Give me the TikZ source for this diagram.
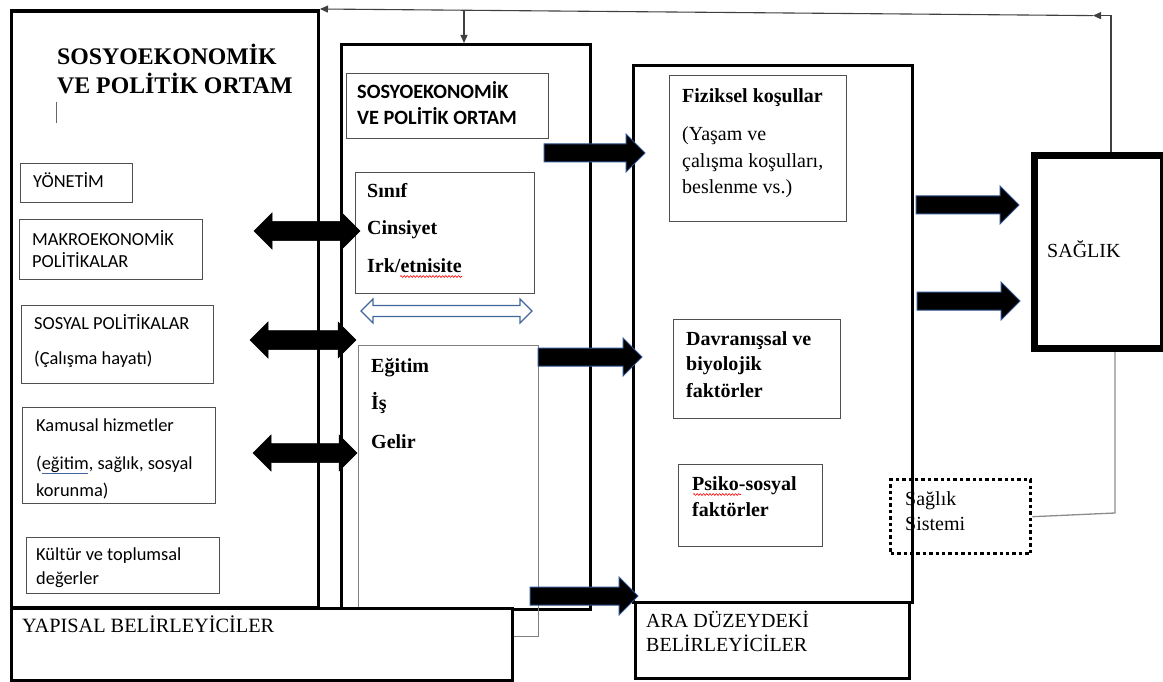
\documentclass[tikz,border=0pt]{standalone}
\usepackage{fontspec}
\setmainfont{Liberation Serif}
\newfontfamily\calfont{Carlito}
\usetikzlibrary{arrows.meta,decorations.pathmorphing}
\definecolor{arrowblue}{HTML}{2F528F}
\definecolor{hollowblue}{HTML}{41679F}
\definecolor{thingray}{HTML}{505050}
\newcommand\mkbox[6]{\node[#1,anchor=north west,minimum width={#5-#3},minimum height={#6-#4}] (#2) at (#3,#4) {};}
\newcommand\rarr[3]{\filldraw[rarrow] (#1,#3-9) -- (#2-19,#3-9) -- (#2-19,#3-19) -- (#2,#3) -- (#2-19,#3+19) -- (#2-19,#3+9) -- (#1,#3+9) -- cycle;}
\newcommand\dblarr[7]{\filldraw[#1] (#2,#4) -- (#2+#7,#4-#6) -- (#2+#7,#4-#5) -- (#3-#7,#4-#5) -- (#3-#7,#4-#6) -- (#3,#4) -- (#3-#7,#4+#6) -- (#3-#7,#4+#5) -- (#2+#7,#4+#5) -- (#2+#7,#4+#6) -- cycle;}
\begin{document}
\begin{tikzpicture}[x=1pt,y=-1pt,
  bigbox/.style={draw=black,line width=3.3pt,inner sep=0},
  whitebig/.style={bigbox,fill=white},
  thinbox/.style={draw=thingray,line width=1.1pt,inner sep=0},
  lightbox/.style={draw=gray,line width=1.1pt,inner sep=0},
  dotbox/.style={draw=black,line width=3.4pt,dash pattern=on 3.4pt off 3pt,inner sep=0},
  healthbox/.style={draw=black,line width=7pt,inner sep=0},
  txt/.style={anchor=base west,inner sep=0},
  cal/.style={txt,font=\calfont\fontsize{18.4}{22}\selectfont},
  calb/.style={txt,font=\calfont\bfseries\fontsize{20.3}{24}\selectfont},
  serb/.style={txt,font=\bfseries\fontsize{20}{24}\selectfont},
  ser/.style={txt,font=\fontsize{20}{24}\selectfont},
  bighead/.style={txt,font=\bfseries\fontsize{23.8}{28}\selectfont},
  rarrow/.style={fill=black,draw=arrowblue,line width=1pt,line join=miter},
  blackdbl/.style={fill=black,draw=black,line width=0.5pt},
  hollowdbl/.style={fill=white,draw=hollowblue,line width=1.1pt},
  fbline/.style={draw=black!75,line width=1.1pt},
  fbgray/.style={draw=black!45,line width=1.3pt},
  tip/.style={-{Triangle[width=7pt,length=8pt]}},
  squiggle/.style={draw=red,line width=0.6pt,decorate,decoration={snake,segment length=3.2pt,amplitude=0.9pt}}
]
\useasboundingbox (0,0) rectangle (1163,682);
\fill[white] (0,0) rectangle (1163,682);

% ---------- left: structural determinants ----------
\mkbox{bigbox}{leftbox}{9.5}{9.5}{316.5}{606}
\node[bighead] (lh1) at (57,65) {SOSYOEKONOMİK};
\node[bighead] (lh2) at (57,94) {VE POLİTİK ORTAM};
\draw[black!60,line width=0.9pt] (56,102) -- (56,123);

\mkbox{thinbox}{yonetim}{20}{163}{132}{202}
\node[cal] (t1) at (33,188) {YÖNETİM};
\mkbox{thinbox}{makro}{19}{219}{202}{279}
\node[cal] (t2) at (32,245) {MAKROEKONOMİK};
\node[cal] (t3) at (32,267) {POLİTİKALAR};
\mkbox{thinbox}{sosyal}{21}{305}{213}{383}
\node[cal] (t4) at (34,329) {SOSYAL POLİTİKALAR};
\node[cal] (t5) at (34,364) {(Çalışma hayatı)};
\mkbox{thinbox}{kamusal}{22}{407}{215}{503}
\node[cal] (t6) at (36,431) {Kamusal hizmetler};
\node[cal] (t7) at (36,469) {(eğitim, sağlık, sosyal};
\node[cal] (t8) at (36,496) {korunma)};
\draw[draw=hollowblue,line width=0.9pt] (42,473.5) -- (88,473.5);
\mkbox{thinbox}{kultur}{26}{537}{219}{593}
\node[cal] (t9) at (36,560) {Kültür ve toplumsal};
\node[cal] (t10) at (36,584) {değerler};

% ---------- middle ----------
\mkbox{bigbox}{midbox}{340}{43}{589}{608}
\mkbox{thinbox}{midhead}{346}{73}{548}{138}
\node[calb] (m1) at (357,99) {SOSYOEKONOMİK};
\node[calb] (m2) at (357,125) {VE POLİTİK ORTAM};
\mkbox{thinbox}{sinif}{355}{172}{534}{293}
\node[serb] (s1) at (367,197) {Sınıf};
\node[serb] (s2) at (367,234) {Cinsiyet};
\node[serb] (s3) at (367,272) {Irk/etnisite};
\draw[squiggle] (400,276.5) -- (462,276.5);
\mkbox{lightbox}{egitim}{358}{345}{538}{636}
\node[serb] (e1) at (371,372) {Eğitim};
\node[serb] (e2) at (371,409) {İş};
\node[serb] (e3) at (371,448) {Gelir};

\mkbox{whitebig}{yapisal}{9.5}{607}{511}{678.5}
\node[ser,font=\fontsize{20.3}{24}\selectfont] (y1) at (22,632) {YAPISAL BELİRLEYİCİLER};

% ---------- right: intermediate ----------
\mkbox{thinbox}{fiziksel}{669}{75}{846}{221}
\node[serb] (f1) at (682,103) {Fiziksel koşullar};
\node[ser] (f2) at (682,141) {(Yaşam ve};
\node[ser] (f3) at (682,168) {çalışma koşulları,};
\node[ser] (f4) at (682,194) {beslenme vs.)};
\mkbox{thinbox}{davran}{673}{319}{840}{418}
\node[serb] (d1) at (686,345) {Davranışsal ve};
\node[serb] (d2) at (686,370) {biyolojik};
\node[serb] (d3) at (686,397) {faktörler};
\mkbox{thinbox}{psiko}{678}{464}{822}{546}
\node[serb] (p1) at (692,490) {Psiko-sosyal};
\node[serb] (p2) at (692,516) {faktörler};
\draw[squiggle] (693,494.5) -- (741,494.5);

\mkbox{dotbox}{sistem}{889}{478}{1029}{552}
\node[ser] (h1) at (905,505) {Sağlık};
\node[ser] (h2) at (905,530) {Sistemi};

\mkbox{bigbox}{rightbox}{632}{64}{911}{601}
\mkbox{whitebig}{ara}{634}{601}{908}{677}
\node[ser] (a1) at (646,627) {ARA DÜZEYDEKİ};
\node[ser] (a2) at (646,651) {BELİRLEYİCİLER};

% ---------- health ----------
\mkbox{healthbox}{saglik}{1030.5}{152}{1159.5}{345}
\node[ser] (sg) at (1047,258) {SAĞLIK};

% ---------- feedback connectors ----------
\coordinate (c1) at (1111,15.6);
\coordinate (c2) at (1093,15.6);
\coordinate (c3) at (320,9);
\coordinate (c4) at (464,10.2);
\coordinate (c5) at (1115,513);
\draw[fbline,tip] (c1 |- saglik.north) -- (c1) -- (c2);
\draw[fbline,tip] (c2) -- (c3);
\draw[fbline,tip] (c4) -- (c4 |- midbox.north);
\draw[fbgray] (sistem.east) -- (c5) -- (c5 |- saglik.south);

% ---------- block arrows ----------
\dblarr{blackdbl}{254}{360}{231}{9.5}{18}{18}
\dblarr{blackdbl}{250}{356}{340}{9.5}{18}{18}
\dblarr{blackdbl}{253}{357}{453}{9.5}{18}{18}
\dblarr{hollowdbl}{361}{532}{311}{5.5}{12}{12}
\rarr{544}{645}{153}
\rarr{538}{642}{357}
\rarr{530}{638}{596}
\rarr{916}{1019}{205}
\rarr{917}{1020}{301}
\end{tikzpicture}
\end{document}
